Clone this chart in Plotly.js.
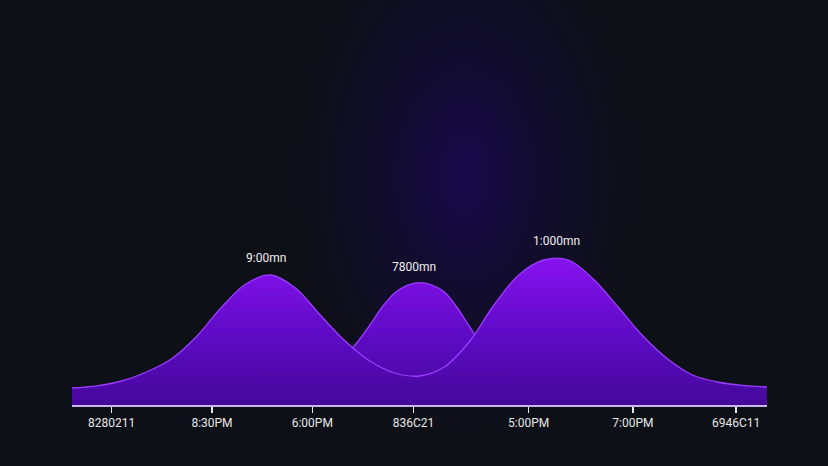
<!DOCTYPE html>
<html>
<head>
<meta charset="utf-8">
<script src="https://cdn.plot.ly/plotly-3.0.1.min.js"></script>
<style>
html,body{margin:0;padding:0;width:828px;height:466px;overflow:hidden;
background:#0e1017;}
#bg{position:absolute;left:0;top:0;width:828px;height:466px;
background:radial-gradient(ellipse 170px 260px at 465px 175px, rgba(24,10,80,0.95) 0%, rgba(20,10,62,0.6) 45%, rgba(14,16,23,0) 100%);}
#chart{position:absolute;left:0;top:0;width:828px;height:466px;}
</style>
</head>
<body>
<div id="bg"></div>
<div id="chart"></div>
<script>
// Outer series (two large peaks)
const xOuter = [0, 2.5, 5, 7.5, 10, 12.5, 15, 17.5, 20, 22.5, 25, 27.5, 30, 32.5, 35, 37.5, 40, 42.5, 45, 47.5, 50, 52.5, 55, 57.5, 60, 62.5, 65, 67.5, 70];
const yOuter = [8.5, 9.6, 12, 16.5, 23, 34, 48.5, 60.5, 65, 58.5, 45, 32, 22, 16, 14.5, 19, 31.5, 50, 65, 72.5, 72.5, 63, 49, 34.5, 23, 15, 11.5, 9.8, 9];
// Middle series (smaller peak)
const xMiddle = [25, 26.25, 27.5, 28.75, 30, 31.25, 32.5, 33.75, 35, 36.25, 37.5, 38.75, 40, 41.25, 42.5, 43.75, 45];
const yMiddle = [13, 18, 24.5, 31.5, 40, 49, 56, 59.8, 61.2, 60, 56.5, 49, 39.5, 30, 21.5, 15, 10];
// Tick labels
const tickPos = [4, 14.1, 24.2, 34.4, 46, 56.5, 66.9];
const tickText = ["8280211", "8:30PM", "6:00PM", "836C21", "5:00PM", "7:00PM", "6946C11"];
// Peak labels
const peakLabels = ["9:00mn", "7800mn", "1:000mn"];
const peakX = [19.5, 34.4, 48.8];
const peakY = [65.5, 61, 74];

const grad = {type: 'vertical', start: 0, stop: 76,
  colorscale: [[0, '#45089a'], [0.45, '#5d0bc4'], [1, '#8a12f2']]};

const traces = [
  {x: xMiddle, y: yMiddle, type: 'scatter', mode: 'lines', fill: 'tozeroy',
   line: {shape: 'spline', smoothing: 1, color: '#9a3cff', width: 1.3},
   fillgradient: grad, hoverinfo: 'skip', showlegend: false},
  {x: xOuter, y: yOuter, type: 'scatter', mode: 'lines', fill: 'tozeroy',
   line: {shape: 'spline', smoothing: 1, color: '#9a3cff', width: 1.3},
   fillgradient: grad, hoverinfo: 'skip', showlegend: false}
];

const annotations = peakLabels.map((t, i) => ({
  x: peakX[i], y: peakY[i], xref: 'x', yref: 'y', text: t, showarrow: false,
  yshift: 16, font: {family: 'Roboto, Arial, sans-serif', size: 12, color: '#eeeeee'}
}));

const layout = {
  width: 828, height: 466,
  margin: {l: 72, r: 61, t: 205, b: 61},
  paper_bgcolor: 'rgba(0,0,0,0)', plot_bgcolor: 'rgba(0,0,0,0)',
  showlegend: false,
  xaxis: {range: [0, 70], showgrid: false, zeroline: false,
    showline: true, linecolor: '#c9b6ee', linewidth: 2,
    tickmode: 'array', tickvals: tickPos, ticktext: tickText,
    ticks: 'outside', ticklen: 6, tickwidth: 1.5, tickcolor: '#e8e8e8',
    tickfont: {family: 'Roboto, Arial, sans-serif', size: 12, color: '#e6e6e6'}},
  yaxis: {range: [0, 100], visible: false, fixedrange: true},
  annotations: annotations
};

Plotly.newPlot('chart', traces, layout, {staticPlot: true, displayModeBar: false});
</script>
</body>
</html>
